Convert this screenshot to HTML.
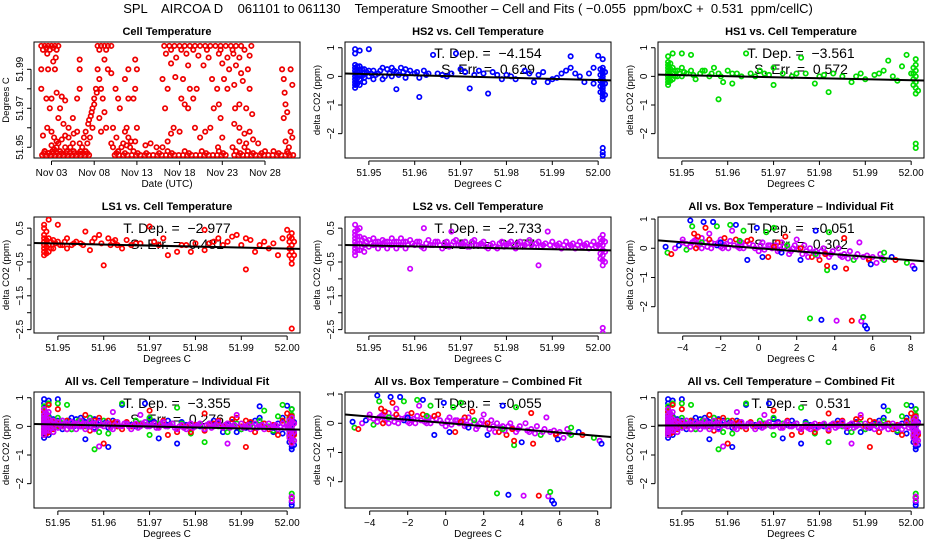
<!DOCTYPE html>
<html><head><meta charset="utf-8">
<style>
html,body{margin:0;padding:0;background:#fff;}
svg{display:block;font-family:"Liberation Sans",Arial,sans-serif;}
</style></head>
<body>
<svg id="chart" width="936" height="540" viewBox="0 0 936 540" xmlns="http://www.w3.org/2000/svg">
<text x="468" y="13" text-anchor="middle" font-size="13" style="white-space:pre">SPL    AIRCOA D    061101 to 061130    Temperature Smoother – Cell and Fits ( −0.055  ppm/boxC +  0.531  ppm/cellC)</text>
</svg>
<script>
// ---------- DATA ----------
// Cell temperature time series: [day of November, temperature degC]
const cellSeries = [
[1.8,52.002],[2.2,52.002],[2.6,52.002],[3.0,52.002],[3.4,52.002],[3.8,52.002],[2.0,52.000],[2.8,52.000],[3.6,52.000],[2.5,51.998],[3.5,51.996],[3.2,51.994],
[1.8,51.99],[2.6,51.99],[3.4,51.99],[1.8,51.98],[2.4,51.975],[2.8,51.97],[3.0,51.975],[3.6,51.978],[4.2,51.976],[4.6,51.974],[4.0,51.97],[3.8,51.965],[4.4,51.962],
[2.0,51.956],[2.5,51.96],[3.0,51.958],[3.3,51.955],[3.6,51.953],[3.0,51.951],[3.3,51.949],[2.2,51.948],[2.7,51.947],
[5.0,51.96],[5.5,51.965],[6.0,51.975],[6.3,51.98],[6.3,51.99],[6.3,51.995],[6.0,51.958],[5.5,51.952],[6.3,51.952],[6.8,51.955],
[7.0,51.958],[7.3,51.962],[7.6,51.966],[7.8,51.97],[8.0,51.975],[8.2,51.98],[7.2,51.952],[7.5,51.955],[7.8,51.96],
[8.4,51.99],[8.6,51.985],[8.8,51.98],[9.0,51.975],[9.2,51.968],[9.4,51.96],[8.6,51.965],[8.8,51.958],[9.2,51.995],[9.6,51.99],[10.0,51.988],
[10.5,51.98],[10.8,51.975],[11.0,51.97],[10.2,51.96],[10.6,51.955],[10.0,51.952],[11.2,51.95],[11.6,51.958],[11.8,51.96],[12.0,51.955],[12.3,51.953],
[12.0,51.99],[11.6,51.985],[12.0,51.975],[12.6,51.975],[12.8,51.98],[13.0,51.99],[12.8,51.995],[13.0,51.96],[12.8,51.953],
[14.0,51.951],[14.6,51.952],[15.3,51.95],[16.0,51.95],[16.6,51.953],[17.0,51.957],[17.3,51.96],[18.0,51.958],[16.3,51.97],[16.6,51.98],[16.0,51.985],[17.5,51.986],
[18.2,51.975],[18.6,51.972],[19.0,51.97],[19.6,51.975],[20.0,51.98],[19.2,51.98],[18.4,51.985],[19.8,51.96],[20.4,51.955],[21.0,51.958],[21.6,51.96],
[22.0,51.97],[22.6,51.972],[22.4,51.98],[21.8,51.985],[22.8,51.965],[22.5,51.95],[23.0,51.955],
[16.2,52.002],[16.8,52.002],[17.4,52.002],[18.0,52.002],[18.6,52.002],[19.2,52.002],[19.8,52.002],[20.4,52.002],[21.0,52.002],[21.6,52.002],[22.2,52.002],[22.8,52.002],[23.4,52.002],[24.0,52.002],[24.6,52.002],[25.2,52.002],[26.4,52.002],
[16.4,51.998],[17.6,51.996],[18.8,51.998],[20.2,51.997],[21.4,51.996],[22.6,51.998],[23.6,51.996],[24.3,51.998],[25.0,51.996],[26.2,51.997],
[17.0,51.993],[19.0,51.992],[20.8,51.992],[23.0,51.993],[23.8,51.99],[24.6,51.992],[25.2,51.988],[26.0,51.99],
[23.2,51.985],[23.6,51.98],[24.4,51.982],[25.4,51.984],[26.2,51.98],[24.5,51.97],[25.0,51.972],[25.8,51.97],[26.5,51.967],
[24.4,51.962],[25.0,51.96],[25.6,51.957],[26.2,51.958],[25.0,51.953],[25.8,51.952],[26.6,51.954],[27.2,51.952],
[30.0,51.99],[31.0,51.99],[30.2,51.985],[31.2,51.982],[30.3,51.978],[30.4,51.972],[30.6,51.968],[30.2,51.965],[31.0,51.958],[31.2,51.955],[30.4,51.953],[30.8,51.95],
[1.9,51.946],[2.4,51.946],[2.9,51.946],[3.4,51.946],[3.9,51.946],[4.4,51.946],[4.9,51.946],[5.4,51.946],[5.9,51.946],[6.4,51.946],[6.9,51.946],[7.4,51.946],
[10.4,51.946],[10.9,51.946],[11.4,51.946],[11.9,51.946],[12.4,51.946],[12.9,51.946],[13.4,51.946],[13.9,51.946],[14.4,51.946],[14.9,51.946],[15.4,51.946],[15.9,51.946],
[16.4,51.946],[16.9,51.946],[17.4,51.946],[17.9,51.946],[18.4,51.946],[18.9,51.946],[19.4,51.946],[19.9,51.946],[20.4,51.946],[20.9,51.946],[21.4,51.946],[21.9,51.946],
[22.4,51.946],[22.9,51.946],[23.4,51.946],[24.4,51.946],[24.9,51.946],[25.4,51.946],[25.9,51.946],[26.4,51.946],[26.9,51.946],[27.4,51.946],[27.9,51.946],[28.4,51.946],
[28.9,51.946],[29.4,51.946],[29.9,51.946],[30.4,51.946],[30.9,51.946],[31.3,51.946],
[2.2,51.948],[3.1,51.948],[4.0,51.948],[4.8,51.948],[5.6,51.948],[6.4,51.948],[7.0,51.948],[10.8,51.948],[12.6,51.948],[16.6,51.948],[18.6,51.948],[20.6,51.948],[22.6,51.948],[24.6,51.948],[26.0,51.948],[29.0,51.948],[30.6,51.948],
[3.6,51.95],[4.6,51.95],[5.2,51.95],[6.6,51.95],[10.2,51.95],[24.2,51.95],[25.6,51.95],[28.0,51.948],
[2.1,51.947],[2.6,51.947],[3.2,51.947],[3.7,51.947],[4.2,51.947],[4.7,51.947],[5.2,51.947],[5.7,51.947],[6.2,51.947],[6.7,51.947],[7.2,51.947],
[10.6,51.947],[11.6,51.947],[13.1,51.947],[14.1,51.947],[15.6,51.947],[17.1,51.947],[19.1,51.947],[21.1,51.947],[23.1,51.947],[25.1,51.947],[26.6,51.947],[27.6,51.947],[29.6,51.947],[30.7,51.947],
[2.4,52.001],[3.2,52.001],[8.4,52.002],[8.8,52.002],[9.2,52.002],[9.6,52.002],[10.0,52.002],[8.6,52.0],[9.4,52.0],[17.0,52.0],[18.2,52.0],[19.6,52.0],[21.2,52.0],[22.8,52.0],[24.2,52.0],[25.6,52.0],
[3.8,51.952],[4.2,51.954],[4.6,51.956],[5.0,51.955],[5.6,51.957],[7.4,51.964],[7.7,51.968],[8.0,51.972],[8.3,51.978],[11.4,51.952],[11.8,51.951],[12.2,51.95]
];

// delta CO2 vs cell temperature: [cell temp degC, delta CO2 ppm]
const hs2 = [
[51.947,0.95],[51.947,0.8],[51.947,0.4],[51.947,0.3],[51.947,0.2],[51.947,0.1],[51.947,0.0],[51.947,-0.1],[51.947,-0.2],[51.947,-0.3],[51.947,-0.4],
[51.948,0.9],[51.948,0.35],[51.948,0.2],[51.948,0.05],[51.948,-0.1],[51.948,-0.3],[51.949,0.25],[51.949,0.1],[51.949,-0.05],[51.949,-0.2],
[51.95,0.95],[51.95,0.2],[51.95,0.0],[51.951,0.2],[51.951,-0.1],[51.952,0.1],[51.953,0.3],[51.953,-0.1],[51.954,0.25],[51.955,0.0],[51.955,0.3],
[51.956,-0.45],[51.956,0.15],[51.957,0.3],[51.958,0.25],[51.958,-0.05],[51.959,0.2],[51.96,0.1],[51.961,-0.72],[51.961,-0.05],[51.962,0.2],[51.963,0.1],[51.964,0.75],
[51.966,0.05],[51.968,0.1],[51.969,0.8],[51.97,0.25],[51.971,0.15],[51.972,-0.42],[51.973,0.05],[51.974,0.2],[51.975,0.1],[51.976,-0.6],[51.977,0.15],
[51.979,-0.1],[51.98,0.05],[51.982,-0.1],[51.984,0.2],[51.986,-0.2],[51.987,0.05],[51.988,0.15],[51.989,-0.2],[51.99,-0.1],[51.992,0.1],[51.993,0.2],
[51.994,0.7],[51.994,0.3],[51.996,0.0],[51.997,-0.2],[51.998,0.1],[51.999,-0.25],[51.999,0.3],[52.0,0.72],[52.001,0.6],[52.001,0.3],[52.001,0.2],[52.001,0.1],
[52.001,0.0],[52.001,-0.1],[52.001,-0.2],[52.001,-0.3],[52.001,-0.4],[52.001,-0.5],[52.001,-0.6],[52.001,-0.7],[52.001,-0.8],[52.001,-2.5],[52.001,-2.65],[52.001,-2.75],
[51.9475,0.35],[51.9475,0.15],[51.9475,-0.05],[51.9475,-0.25],[51.9485,0.25],[51.9485,0.0],[51.9495,0.15],[51.9505,0.1],[51.9515,0.05],[51.9525,0.2],[51.9535,0.0],
[51.9545,0.1],[51.9555,0.2],[51.9565,0.05],[51.9575,0.15],[51.9585,0.1],[51.9605,0.15],[51.9625,0.05],[51.965,0.1],[51.967,0.0],[51.978,0.05],[51.981,0.0],
[51.985,0.1],[51.991,-0.05],[51.995,0.1],[52.0005,0.25],[52.0005,0.05],[52.0005,-0.15],[52.0005,-0.35],[52.0005,-0.55],[52.0015,0.15],[52.0015,-0.25],[52.0015,-0.65]
];
const hs1 = [
[51.947,0.7],[51.947,0.5],[51.947,0.4],[51.947,0.3],[51.947,0.2],[51.947,0.1],[51.947,0.0],[51.947,-0.1],[51.947,-0.2],[51.947,-0.3],
[51.948,0.8],[51.948,0.3],[51.948,0.1],[51.948,-0.1],[51.949,0.2],[51.949,0.0],[51.95,0.8],[51.95,0.3],[51.95,0.0],[51.951,0.1],[51.952,0.75],[51.952,0.2],
[51.953,-0.1],[51.954,0.1],[51.955,0.2],[51.956,0.0],[51.957,0.3],[51.958,-0.8],[51.958,0.1],[51.959,-0.2],[51.96,0.2],[51.961,-0.25],[51.962,0.1],[51.964,0.8],
[51.965,0.1],[51.966,0.0],[51.967,0.2],[51.968,0.1],[51.97,0.3],[51.97,-0.3],[51.972,0.1],[51.974,0.0],[51.976,0.65],[51.977,0.1],[51.979,-0.25],[51.98,0.0],
[51.982,-0.55],[51.983,0.1],[51.985,0.0],[51.987,-0.2],[51.989,0.1],[51.99,-0.1],[51.992,0.05],[51.994,0.2],[51.995,0.55],[51.996,0.0],[51.997,-0.15],[51.998,0.35],
[51.999,0.75],[52.0,0.1],[52.001,0.6],[52.001,0.4],[52.001,0.2],[52.001,0.0],[52.001,-0.2],[52.001,-0.4],[52.001,-0.6],[52.001,-2.35],[52.001,-2.5],
[51.9475,0.45],[51.9475,0.25],[51.9475,0.05],[51.9475,-0.15],[51.9485,0.2],[51.9485,0.0],[51.9495,0.1],[51.9505,0.15],[51.9525,0.05],[51.9545,0.2],[51.9565,0.1],
[51.9585,0.0],[51.961,0.1],[51.963,0.0],[51.969,0.05],[51.975,0.1],[51.981,0.05],[51.988,0.0],[51.993,0.1],[52.0005,0.3],[52.0005,0.1],[52.0005,-0.1],[52.0005,-0.3],[52.0015,-0.5]
];
const ls1 = [
[51.947,0.6],[51.947,0.5],[51.947,0.3],[51.947,0.2],[51.947,0.1],[51.947,0.0],[51.947,-0.1],[51.947,-0.2],[51.947,-0.3],
[51.948,0.75],[51.948,0.2],[51.948,0.0],[51.948,-0.2],[51.949,0.15],[51.949,-0.1],[51.95,0.6],[51.95,0.1],[51.951,0.0],[51.952,0.2],[51.952,-0.1],
[51.953,0.0],[51.954,0.1],[51.955,0.05],[51.956,0.4],[51.957,-0.15],[51.958,0.2],[51.959,0.3],[51.96,-0.6],[51.961,0.2],[51.962,0.1],[51.963,0.0],[51.964,-0.1],
[51.965,0.15],[51.966,0.0],[51.968,0.05],[51.97,0.55],[51.971,0.1],[51.973,0.2],[51.974,-0.3],[51.976,-0.2],[51.977,0.0],[51.979,-0.2],[51.98,0.05],[51.982,0.45],
[51.982,-0.15],[51.984,0.1],[51.985,0.2],[51.986,0.0],[51.988,0.25],[51.989,0.3],[51.99,0.0],[51.991,-0.72],[51.991,0.2],[51.992,0.15],[51.993,-0.2],[51.995,0.1],
[51.996,-0.1],[51.998,-0.3],[51.999,0.2],[52.0,0.45],[52.001,0.35],[52.001,0.2],[52.001,0.0],[52.001,-0.2],[52.001,-0.4],[52.001,-0.55],[52.001,-2.47],
[51.9475,0.4],[51.9475,0.15],[51.9475,-0.05],[51.9475,-0.25],[51.9485,0.1],[51.9485,-0.1],[51.9495,0.05],[51.9505,0.0],[51.9515,0.1],[51.9535,0.05],[51.9555,0.0],
[51.9575,0.1],[51.9595,0.05],[51.9615,0.0],[51.9625,0.15],[51.967,0.05],[51.972,0.0],[51.978,0.0],[51.983,0.05],[51.987,0.1],[51.994,0.0],[51.997,0.05],
[52.0005,0.25],[52.0005,0.1],[52.0005,-0.1],[52.0005,-0.3],[52.0015,0.1],[52.0015,-0.3]
];
const ls2 = [
[51.947,0.6],[51.947,0.4],[51.947,0.3],[51.947,0.2],[51.947,0.1],[51.947,0.0],[51.947,-0.1],[51.947,-0.2],[51.947,-0.3],
[51.948,0.5],[51.948,0.25],[51.948,0.05],[51.948,-0.15],[51.949,0.2],[51.949,0.0],[51.949,-0.2],[51.95,0.15],[51.95,-0.05],[51.951,0.2],[51.951,0.0],
[51.952,0.1],[51.952,-0.1],[51.953,0.15],[51.953,0.0],[51.954,0.1],[51.954,-0.1],[51.955,0.2],[51.955,0.0],[51.956,0.1],[51.956,-0.1],[51.957,0.2],[51.957,0.0],
[51.958,0.1],[51.958,-0.1],[51.959,-0.7],[51.959,0.15],[51.96,0.0],[51.961,0.1],[51.962,0.5],[51.962,-0.1],[51.963,0.15],[51.964,0.0],[51.965,0.1],[51.966,-0.1],
[51.967,0.1],[51.968,0.4],[51.968,0.0],[51.969,0.15],[51.97,0.0],[51.971,0.1],[51.972,-0.05],[51.973,0.15],[51.974,0.0],[51.975,0.1],[51.976,-0.1],[51.977,0.05],
[51.978,-0.1],[51.979,0.1],[51.98,0.0],[51.981,0.1],[51.982,-0.1],[51.983,0.1],[51.984,0.0],[51.985,0.15],[51.986,-0.05],[51.987,-0.6],[51.987,0.1],[51.988,0.0],
[51.989,0.4],[51.99,0.1],[51.991,0.0],[51.992,-0.1],[51.993,0.1],[51.994,0.0],[51.995,-0.1],[51.996,0.1],[51.997,0.0],[51.998,-0.1],[51.999,0.1],[52.0,0.0],
[52.001,0.3],[52.001,0.15],[52.001,0.0],[52.001,-0.15],[52.001,-0.3],[52.001,-0.45],[52.001,-0.6],[52.001,-2.45],[52.001,-2.6],
[51.9475,0.45],[51.9475,0.25],[51.9475,0.05],[51.9475,-0.15],[51.9485,0.15],[51.9485,-0.05],[51.9495,0.1],[51.9505,0.05],[51.9515,0.1],[51.9525,0.0],[51.9535,0.1],
[51.9545,0.0],[51.9555,0.1],[51.9565,0.0],[51.9575,0.1],[51.9585,0.0],[51.9595,0.05],[51.9605,0.1],[51.9615,-0.05],[51.9625,0.05],[51.9635,0.0],[51.9645,0.1],
[51.9655,0.0],[51.9665,0.05],[51.9675,-0.05],[51.9685,0.1],[51.9695,0.0],[51.9705,0.05],[51.9715,-0.05],[51.9725,0.1],[51.9735,0.0],[51.9745,0.05],[51.9755,-0.05],
[51.9765,0.0],[51.9775,-0.05],[51.9785,0.05],[51.9795,-0.05],[51.9805,0.05],[51.9815,0.0],[51.9825,0.05],[51.9835,-0.05],[51.9845,0.05],[51.9855,0.0],[51.9865,0.05],
[51.9875,-0.05],[51.9885,0.05],[51.9895,0.0],[51.9905,-0.05],[51.9915,0.05],[51.9925,0.0],[51.9935,-0.05],[51.9945,0.05],[51.9955,0.0],[51.9965,-0.05],[51.9975,0.05],
[51.9985,0.0],[51.9995,-0.05],[52.0005,0.2],[52.0005,0.05],[52.0005,-0.1],[52.0005,-0.25],[52.0005,-0.4],[52.0015,0.1],[52.0015,-0.2],[52.0015,-0.5]
];

// delta CO2 vs box temperature: [box temp degC, delta CO2 ppm, series index 0=HS2 1=HS1 2=LS1 3=LS2]
const boxSeries = [
[-4.9,0.05,0],[-4.8,-0.15,1],[-4.6,-0.2,2],[-4.4,0.0,3],[-4.2,0.1,0],[-4.0,0.2,3],[-3.8,-0.05,1],[-3.6,0.95,0],[-3.5,0.75,1],[-3.4,0.5,2],[-3.3,0.3,3],
[-3.2,0.1,3],[-3.0,0.0,3],[-2.9,0.9,0],[-2.8,0.7,2],[-2.6,0.5,3],[-2.5,0.2,3],[-2.4,0.9,0],[-2.2,0.75,1],[-2.0,0.3,3],[-1.8,0.1,3],[-1.6,0.0,3],[-1.5,0.8,1],
[-1.4,0.6,3],[-1.2,0.8,0],[-1.0,0.2,3],[-0.8,0.0,3],[-0.8,0.6,1],[-0.6,-0.4,0],[-0.4,0.3,2],[-0.3,0.1,3],[-0.1,0.7,0],[0.0,-0.1,3],[0.2,0.2,3],[0.4,0.55,1],
[0.5,-0.3,2],[0.6,0.1,3],[0.8,0.7,1],[1.0,-0.1,3],[1.2,0.2,3],[1.4,0.4,2],[1.6,-0.2,3],[1.8,0.0,3],[2.0,0.3,3],[2.2,-0.4,0],[2.4,0.1,3],[2.6,-0.3,3],
[2.7,-2.4,1],[3.0,0.6,0],[3.0,-0.1,3],[3.2,-0.4,2],[3.3,-2.45,0],[3.4,0.0,3],[3.6,-0.75,1],[3.6,-0.6,2],[3.7,0.55,1],[3.8,-0.2,3],[4.0,-0.65,0],[4.1,-2.48,3],
[4.2,0.0,3],[4.4,-0.3,3],[4.5,0.35,2],[4.6,-0.7,2],[4.8,-0.1,3],[4.9,-2.48,2],[5.0,-0.4,1],[5.2,-0.2,3],[5.3,0.2,3],[5.4,-2.5,3],[5.5,-2.35,1],[5.6,-2.65,0],
[5.7,-2.75,0],[5.8,-0.4,2],[5.9,-0.55,0],[6.0,-0.3,3],[6.2,-0.5,3],[6.4,-0.2,3],[6.6,-0.15,1],[7.0,-0.3,0],[7.2,-0.4,2],[7.8,-0.5,1],[8.1,-0.6,3],[8.2,-0.7,0],
[-4.0,0.3,3],[-3.5,0.2,3],[-3.0,0.35,3],[-2.5,0.0,3],[-2.0,0.05,3],[-1.5,0.25,3],[-1.0,0.0,3],[-0.5,0.15,3],[0.5,0.1,3],[1.5,0.0,3],[2.5,-0.1,3],[3.5,-0.15,3],
[4.5,-0.2,3],[5.5,-0.3,3],[6.5,-0.35,3],[-3.2,0.4,2],[-1.2,0.3,2],[1.0,0.2,2],[2.8,-0.3,2],[5.8,-0.35,2],[-2.2,0.1,0],[0.2,-0.3,0],[6.6,-0.4,1],
[-3.8,0.15,3],[-3.6,0.05,3],[-3.4,0.25,3],[-3.1,0.15,3],[-2.8,0.2,3],[-2.7,0.05,3],[-2.3,0.15,3],[-2.1,0.2,3],[-1.9,0.0,3],[-1.7,0.15,3],[-1.3,0.1,3],
[-1.1,0.05,3],[-0.9,0.2,3],[-0.7,0.1,3],[-0.2,0.0,3],[0.1,0.1,3],[0.3,-0.05,3],[0.7,0.0,3],[0.9,0.1,3],[1.1,-0.05,3],[1.3,0.05,3],[1.7,-0.1,3],[1.9,0.1,3],
[2.1,-0.05,3],[2.3,-0.2,3],[2.7,0.0,3],[2.9,-0.15,3],[3.1,-0.25,3],[3.3,-0.1,3],[3.7,-0.3,3],[3.9,-0.1,3],[4.3,-0.25,3],[4.7,-0.35,3],[5.1,-0.3,3],[5.7,-0.25,3],
[-3.3,0.0,2],[-2.6,0.3,2],[-1.8,0.35,2],[-0.6,0.25,2],[0.8,0.05,2],[2.2,0.0,2],[3.5,-0.2,2],[-3.0,0.2,1],[-1.0,0.25,1],[1.5,0.1,1],[3.0,-0.2,1],[-2.0,0.2,0],[1.2,-0.15,0]
];

// Fit results
const fitSlopes = [-4.154, -3.561, -2.977, -2.733, -0.051, -3.355, -0.055, 0.531];
const fitRefY   = [0.1, 0.06, 0.06, 0.0, 0.27, 0.08, 0.3, 0.03];
const fitRefX   = [51.945, 51.945, 51.945, 51.945, -5.3, 51.945, -5.3, 51.945];
const tDepLabels = ["−4.154","−3.561","−2.977","−2.733","−0.051","−3.355","−0.055","0.531"];
const sErrLabels = ["0.629","0.572","0.481","0.477","0.302","0.276","",""];

const seriesColors = ["#0000ff","#00dd00","#ff0000","#cc00ff"];
const cellTicks = [51.95,51.96,51.97,51.98,51.99,52.00];
const cellTickLabels = ["51.95","51.96","51.97","51.98","51.99","52.00"];
const boxTicks = [-4,-2,0,2,4,6,8];
const boxTickLabels = ["−4","−2","0","2","4","6","8"];
const co2Ticks = [1,0,-1,-2];
const co2TickLabels = ["1","0","−1","−2"];
const ls1Ticks = [0.5,0,-0.5,-1,-1.5,-2,-2.5];
const ls1TickLabels = ["0.5","","−0.5","","−1.5","","−2.5"];
const dayTicks = [3,8,13,18,23,28];
const dayTickLabels = ["Nov 03","Nov 08","Nov 13","Nov 18","Nov 23","Nov 28"];
const tempTicks = [51.95,51.96,51.97,51.98,51.99];
const tempTickLabels = ["51.95","","51.97","","51.99"];

// ---------- DRAWING ----------
const svg = document.getElementById('chart');
const NS = 'http://www.w3.org/2000/svg';
function mk(tag, attrs, parent){
  const e = document.createElementNS(NS, tag);
  for (const k in attrs) e.setAttribute(k, attrs[k]);
  (parent||svg).appendChild(e);
  return e;
}
const colL = [34, 345, 658], rowT = [42, 217, 392], PW = 266, PH = 116;

function panel(name, col, row, title, xr, yr, xt, xtl, yt, ytl, xlab, ylab){
  const g = mk('g', {});
  
  
  const l = colL[col], t = rowT[row];
  const sx = v => l + (v - xr[0]) / (xr[1] - xr[0]) * PW;
  const sy = v => t + (yr[1] - v) / (yr[1] - yr[0]) * PH;
  const tt = mk('text', {x: l + PW/2, y: t - 7, 'text-anchor':'middle', 'font-size':11, 'font-weight':'bold'}, g);
  tt.textContent = title;
  
  
  const box = mk('rect', {x:l, y:t, width:PW, height:PH, fill:'none', stroke:'#000', 'stroke-width':1}, g);
  
  
  const xa = mk('g', {}, g);
  
  
  mk('line', {x1:sx(xt[0]), x2:sx(xt[xt.length-1]), y1:t+PH+3, y2:t+PH+3, stroke:'#000'}, xa);
  xt.forEach((v,i) => {
    mk('line', {x1:sx(v), x2:sx(v), y1:t+PH+3, y2:t+PH+7, stroke:'#000'}, xa);
    const tx = mk('text', {x:sx(v), y:t+PH+18, 'text-anchor':'middle', 'font-size':10}, xa);
    tx.textContent = xtl[i];
  });
  const xl = mk('text', {x:l+PW/2, y:t+PH+29, 'text-anchor':'middle', 'font-size':10}, g);
  xl.textContent = xlab;
  
  
  const ya = mk('g', {}, g);
  
  
  mk('line', {x1:l-3, x2:l-3, y1:sy(yt[0]), y2:sy(yt[yt.length-1]), stroke:'#000'}, ya);
  yt.forEach((v,i) => {
    mk('line', {x1:l-7, x2:l-3, y1:sy(v), y2:sy(v), stroke:'#000'}, ya);
    if (ytl[i]) {
      const tx = mk('text', {x:l-11, y:sy(v), 'text-anchor':'middle', 'font-size':10, transform:`rotate(-90 ${l-11} ${sy(v)})`}, ya);
      tx.textContent = ytl[i];
    }
  });
  const yl = mk('text', {x:l-25, y:t+PH/2, 'text-anchor':'middle', 'font-size':9.5, transform:`rotate(-90 ${l-25} ${t+PH/2})`}, g);
  yl.textContent = ylab;
  
  
  const clip = 'clip' + name;
  const cp = mk('clipPath', {id: clip}, g);
  mk('rect', {x:l, y:t, width:PW, height:PH}, cp);
  const plot = mk('g', {'clip-path':`url(#${clip})`}, g);
  return {g, plot, sx, sy, l, t, xr};
}
function stats(p, k){
  const a = mk('text', {x:p.l+PW/2+10, y:p.t+16, 'text-anchor':'middle', 'font-size':14, style:'white-space:pre'}, p.plot);
  a.textContent = 'T. Dep. =  ' + tDepLabels[k];
  
  
  if (sErrLabels[k]) {
    const b = mk('text', {x:p.l+PW/2+10, y:p.t+32, 'text-anchor':'middle', 'font-size':14, style:'white-space:pre'}, p.plot);
    b.textContent = 'S. Err. =  ' + sErrLabels[k];
    
    
  }
}
function points(p, data, colorFn){
  data.forEach(d => {
    const c = mk('circle', {cx:p.sx(d[0]), cy:p.sy(d[1]), r:2.2, fill:'none', stroke:colorFn(d), 'stroke-width':1.7}, p.plot);
    
    
  });
}
function fit(p, k){
  const f = x => fitRefY[k] + fitSlopes[k] * (x - fitRefX[k]);
  const ln = mk('line', {x1:p.sx(p.xr[0]), y1:p.sy(f(p.xr[0])), x2:p.sx(p.xr[1]), y2:p.sy(f(p.xr[1])), stroke:'#000', 'stroke-width':2}, p.plot);
  
  
}

const cellX = [51.9448, 52.0028], boxX = [-5.3, 8.7], co2Y = [-2.85, 1.2];
const allCell = [].concat(hs2.map(d=>[d[0],d[1],0]), hs1.map(d=>[d[0],d[1],1]), ls1.map(d=>[d[0],d[1],2]), ls2.map(d=>[d[0],d[1],3]));

let p = panel('cell-temperature-panel', 0, 0, 'Cell Temperature', [0.95, 32.1], [51.9445, 52.004], dayTicks, dayTickLabels, tempTicks, tempTickLabels, 'Date (UTC)', 'Degrees C');
points(p, cellSeries, () => '#ee0000');

p = panel('hs2-panel', 1, 0, 'HS2 vs. Cell Temperature', cellX, co2Y, cellTicks, cellTickLabels, co2Ticks, co2TickLabels, 'Degrees C', 'delta CO2 (ppm)');
stats(p, 0); points(p, hs2, () => seriesColors[0]); fit(p, 0);

p = panel('hs1-panel', 2, 0, 'HS1 vs. Cell Temperature', cellX, co2Y, cellTicks, cellTickLabels, co2Ticks, co2TickLabels, 'Degrees C', 'delta CO2 (ppm)');
stats(p, 1); points(p, hs1, () => seriesColors[1]); fit(p, 1);

p = panel('ls1-panel', 0, 1, 'LS1 vs. Cell Temperature', cellX, [-2.6, 0.83], cellTicks, cellTickLabels, ls1Ticks, ls1TickLabels, 'Degrees C', 'delta CO2 (ppm)');
stats(p, 2); points(p, ls1, () => seriesColors[2]); fit(p, 2);

p = panel('ls2-panel', 1, 1, 'LS2 vs. Cell Temperature', cellX, [-2.6, 0.83], cellTicks, cellTickLabels, ls1Ticks, ls1TickLabels, 'Degrees C', 'delta CO2 (ppm)');
stats(p, 3); points(p, ls2, () => seriesColors[3]); fit(p, 3);

p = panel('all-box-individual-panel', 2, 1, 'All vs. Box Temperature – Individual Fit', boxX, [-2.9, 1.07], boxTicks, boxTickLabels, co2Ticks, co2TickLabels, 'Degrees C', 'delta CO2 (ppm)');
stats(p, 4); points(p, boxSeries, d => seriesColors[d[2]]); fit(p, 4);

p = panel('all-cell-individual-panel', 0, 2, 'All vs. Cell Temperature – Individual Fit', cellX, co2Y, cellTicks, cellTickLabels, co2Ticks, co2TickLabels, 'Degrees C', 'delta CO2 (ppm)');
stats(p, 5); points(p, allCell, d => seriesColors[d[2]]); fit(p, 5);

p = panel('all-box-combined-panel', 1, 2, 'All vs. Box Temperature – Combined Fit', boxX, [-2.9, 1.07], boxTicks, boxTickLabels, co2Ticks, co2TickLabels, 'Degrees C', 'delta CO2 (ppm)');
stats(p, 6); points(p, boxSeries, d => seriesColors[d[2]]); fit(p, 6);

p = panel('all-cell-combined-panel', 2, 2, 'All vs. Cell Temperature – Combined Fit', cellX, co2Y, cellTicks, cellTickLabels, co2Ticks, co2TickLabels, 'Degrees C', 'delta CO2 (ppm)');
stats(p, 7); points(p, allCell, d => seriesColors[d[2]]); fit(p, 7);
</script>
</body></html>
